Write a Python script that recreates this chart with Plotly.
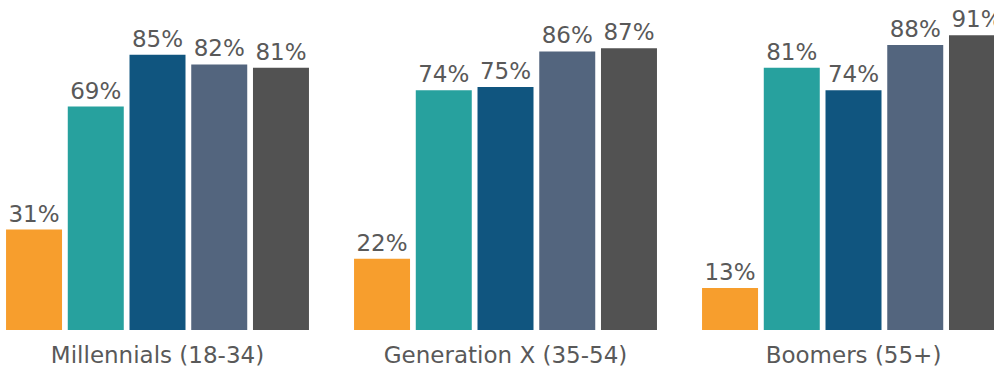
import plotly.graph_objects as go

categories = ["Millennials (18-34)", "Generation X (35-54)", "Boomers (55+)"]
series_names = ["S1", "S2", "S3", "S4", "S5"]
values = [
    [31, 22, 13],
    [69, 74, 81],
    [85, 75, 74],
    [82, 86, 88],
    [81, 87, 91],
]
colors = ["#F79E2D", "#27A19E", "#10557F", "#53657E", "#525252"]

FONT = "DejaVu Sans"
TXT = "#595959"

fig = go.Figure()
for name, vals, col in zip(series_names, values, colors):
    fig.add_trace(go.Bar(
        x=categories, y=vals, name=name, marker_color=col,
        marker_line_width=0,
        text=[f"{v}%" for v in vals], textposition="outside",
        textfont=dict(family=FONT, size=23, color=TXT),
        constraintext="none", cliponaxis=True,
    ))

fig.update_layout(
    width=994, height=367,
    margin=dict(l=0, r=0, t=0, b=37),
    barmode="group", bargap=0.113, bargroupgap=0.093,
    showlegend=False,
    plot_bgcolor="white", paper_bgcolor="white",
    uniformtext=dict(mode=False),
)
fig.update_xaxes(
    type="category", range=[-0.4526, 2.4037], automargin=False,
    showgrid=False, zeroline=False, showline=False,
    ticks="outside", ticklen=4, tickcolor="rgba(0,0,0,0)",
    tickfont=dict(family=FONT, size=23, color=TXT),
)
fig.update_yaxes(range=[0, 101.9], visible=False, showgrid=False, zeroline=False,
                 automargin=False)

fig.write_html("out.html")
